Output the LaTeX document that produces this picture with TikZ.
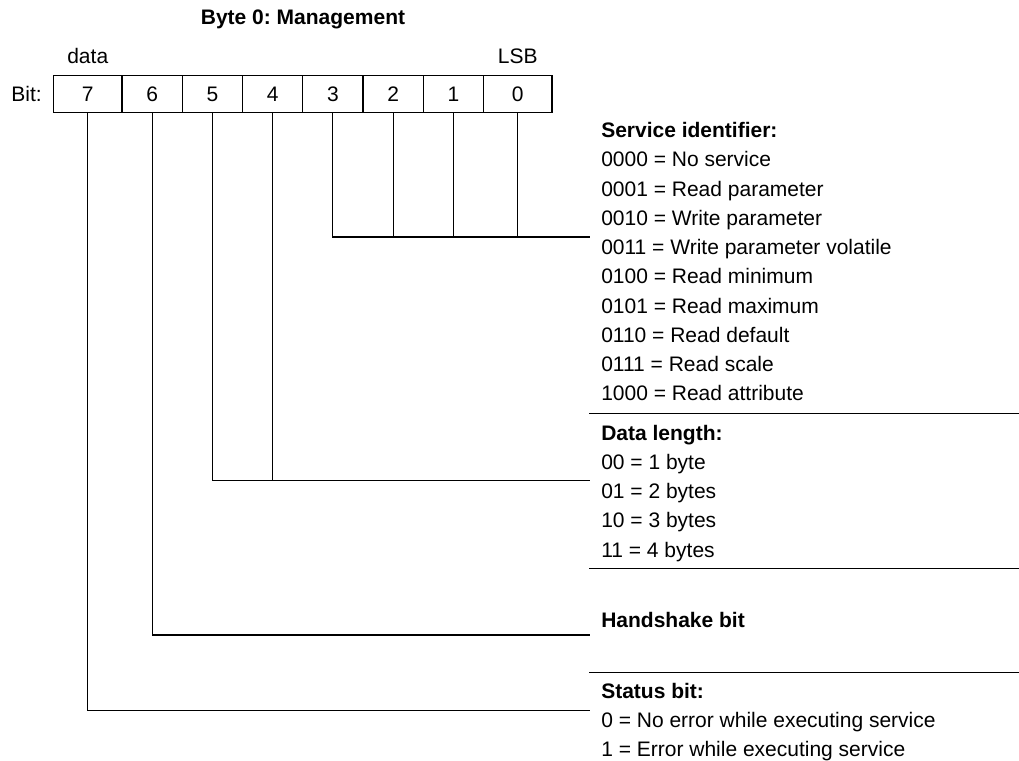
\documentclass[tikz,border=0pt]{standalone}
\usepackage{fontspec}
\setmainfont{Liberation Sans}
\usetikzlibrary{positioning}
\begin{document}
\frenchspacing
\begin{tikzpicture}[
    x=1pt,y=-1pt,line width=1.1pt,
    every node/.style={font=\fontsize{21}{25}\selectfont,inner sep=0pt},
    bitcell/.style={draw,minimum height=37pt,text height=15pt,text depth=0pt},
    txt/.style={anchor=base west},
    hdr/.style={font=\fontsize{21}{25}\selectfont\bfseries}]
    \useasboundingbox (0,0) rectangle (1019,760);
    \node[hdr,anchor=base] (title) at (303,25) {Byte 0: Management};
    % bit cells, the outer two are a little wider
    \foreach \b/\cx/\w in {7/87.75/68.5,6/152.12/60.25,5/212.37/60.25,
        4/272.62/60.25,3/332.87/60.25,2/393.12/60.25,1/453.37/60.25,0/517.75/68.5}
        \node[bitcell,minimum width=\w pt] (b\b) at (\cx,93.8) {\b};
    \node[left=10.6pt of b7,text height=15pt,text depth=0pt] (bitlbl) {Bit:};
    \node[anchor=base] (datalbl) at (87.75,63.3) {data};
    \node[anchor=base] (lsblbl) at (517.75,63.3) {LSB};
    \coordinate (sid) at (590,237);
    \coordinate (dlen) at (590,480.3);
    \coordinate (hsk) at (590,635);
    \coordinate (sts) at (590,710.5);
    \draw (b3.south) |- (sid);
    \foreach \b in {2,1,0}
        \draw (b\b.south) -- (b\b.south |- sid);
    \draw (b5.south) |- (dlen);
    \draw (b4.south) -- (b4.south |- dlen);
    \draw (b6.south) |- (hsk);
    \draw (b7.south) |- (sts);
    % rules between the groups
    \foreach \y in {413.3,568.3,672.3}
        \draw (589.3,\y) -- (1019,\y);
    \node[txt,hdr] (sihead) at (600.7,137.5) {Service identifier:};
    \foreach \t [count=\i] in {0000 = No service,0001 = Read parameter,
        0010 = Write parameter,0011 = Write parameter volatile,
        0100 = Read minimum,0101 = Read maximum,0110 = Read default,
        0111 = Read scale,1000 = Read attribute}
        \node[txt] (si\i) at (600.7,{137.5+29.25*\i}) {\t};
    \node[txt,hdr] (dlhead) at (600.7,440) {Data length:};
    \foreach \t [count=\i] in {00 = 1 byte,01 = 2 bytes,10 = 3 bytes,11 = 4 bytes}
        \node[txt] (dl\i) at (600.7,{440+29.25*\i}) {\t};
    \node[txt,hdr] (hshead) at (600.7,627.5) {Handshake bit};
    \node[txt,hdr] (sthead) at (600.7,698.2) {Status bit:};
    \node[txt] (st0) at (600.7,727.4) {0 = No error while executing service};
    \node[txt] (st1) at (600.7,756.6) {1 = Error while executing service};
\end{tikzpicture}
\end{document}
